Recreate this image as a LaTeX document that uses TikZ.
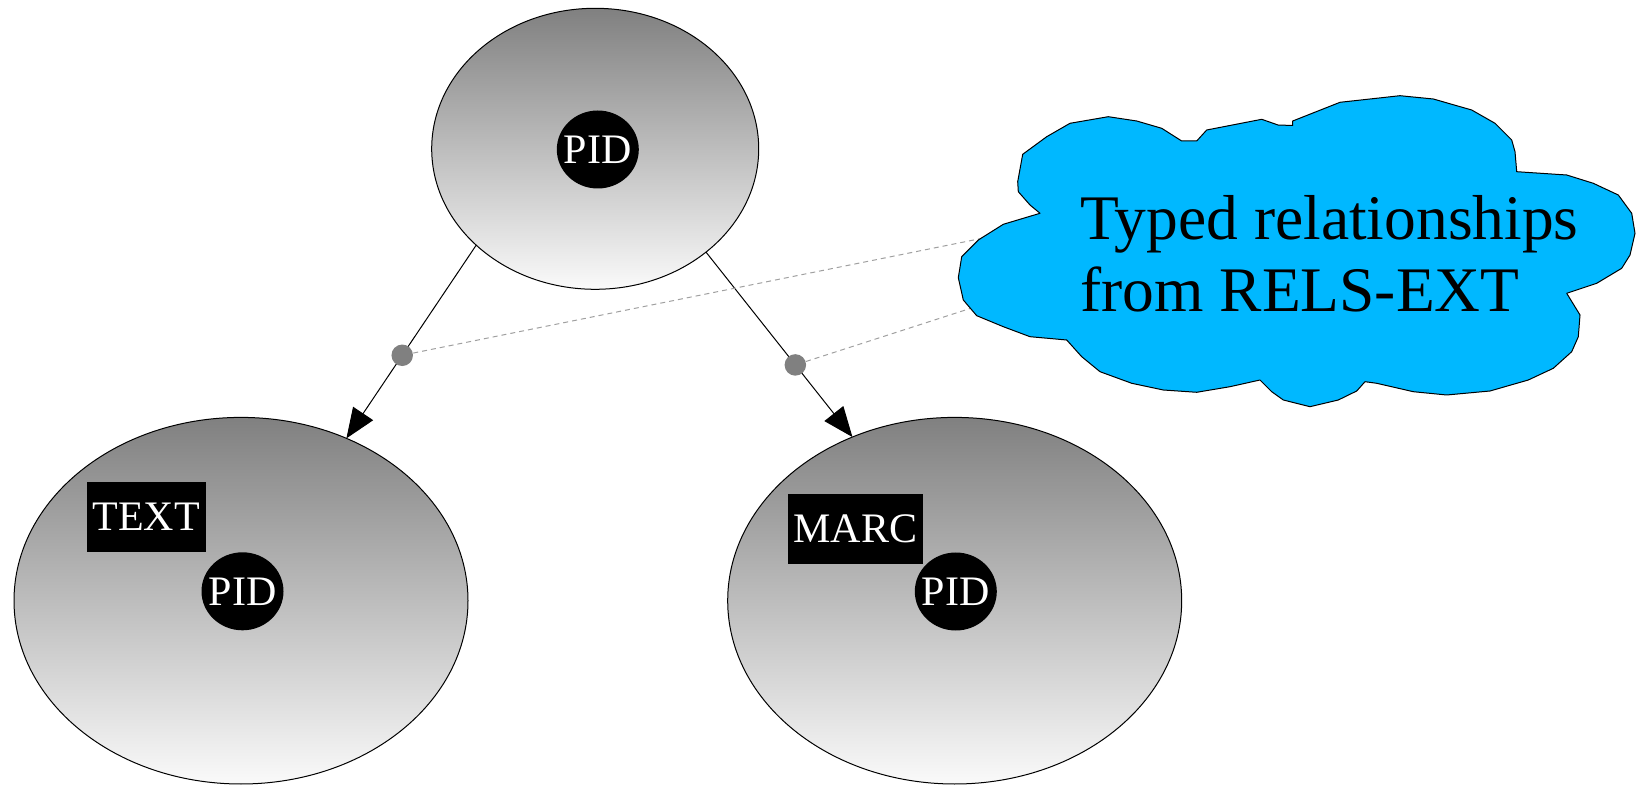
\documentclass[tikz,border=0pt]{standalone}
\usepackage{fontspec}
\setmainfont{Liberation Serif}
\usetikzlibrary{shapes.geometric,arrows.meta}
\definecolor{cloudblue}{RGB}{0,184,255}
\definecolor{shtop}{RGB}{128,128,128}
\definecolor{shbot}{RGB}{250,250,250}
\definecolor{dotgray}{RGB}{128,128,128}
\definecolor{dashgray}{RGB}{160,160,160}
\begin{document}
\begin{tikzpicture}[x=0.5pt,y=-0.5pt,
  obj/.style={ellipse, draw=black, line width=0.5pt, top color=shtop, bottom color=shbot, inner sep=0pt, outer sep=0pt},
  bigobj/.style={obj, minimum width=227pt, minimum height=183.3pt},
  pid/.style={ellipse, fill=black, text=white, minimum width=41pt, minimum height=39pt, inner sep=0pt, font=\fontsize{21}{24}\selectfont},
  tag/.style={rectangle, fill=black, text=white, inner sep=0pt, minimum height=35.1pt, font=\fontsize{21}{24}\selectfont},
  rel/.style={draw=black, line width=0.5pt, -{Triangle[length=15pt,width=12pt]}},
  hook/.style={circle, fill=dotgray, minimum size=10.75pt, inner sep=0pt},
  note/.style={draw=dashgray, line width=0.5pt, dash pattern=on 2.5pt off 2pt},
  cloudtext/.style={anchor=base west, inner sep=0pt, font=\fontsize{31.75}{36}\selectfont},
]
\useasboundingbox (0,0) rectangle (1638,785);

% objects
\node[obj, minimum width=163.5pt, minimum height=140.5pt] (top) at (595.2,148.8) {};
\node[bigobj] (left) at (241,600.7) {};
\node[bigobj] (right) at (954.7,600.7) {};

\node[pid] (pidtop) at (597.8,149.5) {\makebox[0pt]{PID}};
\node[pid] (pidleft) at (242.5,591.3) {\makebox[0pt]{PID}};
\node[pid] (pidright) at (955.8,591.5) {\makebox[0pt]{PID}};

\node[tag, minimum width=59.65pt] (text) at (146.3,516.8) {TEXT};
\node[tag, minimum width=67.2pt] (marc) at (855.5,529) {MARC};

% relationships
\draw[rel] (top.219.5) -- (left.57.1) node[hook, pos=0.57] (h1) {};
\draw[rel] (top.317.5) -- (right.122.4) node[hook, pos=0.61] (h2) {};

% callout lines
\coordinate (c1) at (1000,234.7);
\coordinate (c2) at (980,305.3);
\draw[note] (h1) -- (c1);
\draw[note] (h2) -- (c2);

% cloud
\draw[fill=cloudblue, draw=black, line width=0.5pt, line join=round]
 (1040,213.3) -- (1030,205) -- (1018.3,191.7) -- (1017.7,181.7) -- (1022.7,154.3)
 -- (1046.7,136.7) -- (1070,123.3) -- (1108.3,116.7) -- (1136.7,121) -- (1161.7,128.3)
 -- (1181.7,141) -- (1196.7,141) -- (1206.7,130) -- (1261.7,119.3) -- (1278,125)
 -- (1292.7,125.5) -- (1292.7,121) -- (1340,102.3) -- (1400,95.7) -- (1433.3,99)
 -- (1471.7,110) -- (1495,123.3) -- (1511.7,140) -- (1515,151.7) -- (1516.7,171.7)
 -- (1566.7,175) -- (1593.3,183.3) -- (1618.3,195) -- (1631.7,213.3) -- (1635,233.3)
 -- (1630,255) -- (1621.7,268.3) -- (1596.7,283.3) -- (1566.7,293.3) -- (1580,315)
 -- (1578.3,336.7) -- (1571.7,351.7) -- (1553.3,368.3) -- (1528.3,380) -- (1490,391)
 -- (1446.7,395) -- (1413.3,391.7) -- (1376.7,383.3) -- (1365,381.7) -- (1356.7,391)
 -- (1338.3,400) -- (1310,406.7) -- (1283.3,400) -- (1271.7,391.7) -- (1260,380)
 -- (1230,386.7) -- (1196.7,392.3) -- (1163.3,390) -- (1131.7,383.3) -- (1100,371.7)
 -- (1081.7,356.7) -- (1066.7,340) -- (1030,336.7) -- (1003.3,326.7) -- (976.7,315.7)
 -- (963.3,300) -- (958.3,277.7) -- (961.7,256.7) -- (978.3,240) -- (1003.3,224.3)
 -- cycle;

\node[cloudtext] (line1) at (1080,240) {Typed relationships};
\node[cloudtext] (line2) at (1080,311.7) {from RELS-EXT};
\end{tikzpicture}
\end{document}
